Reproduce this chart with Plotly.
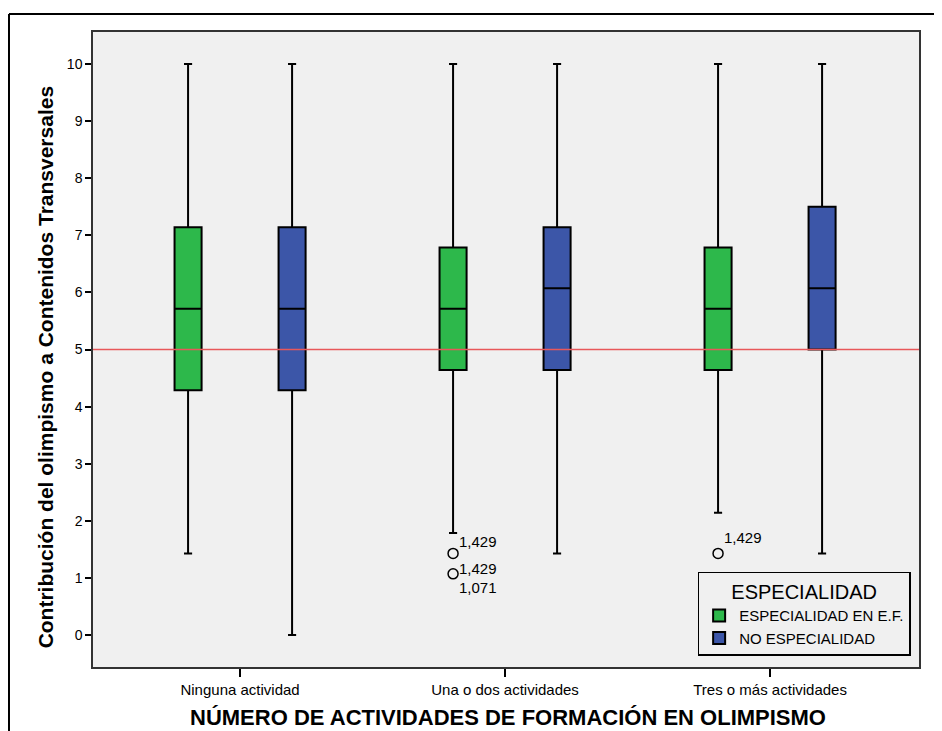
import plotly.graph_objects as go

categories = ["Ninguna actividad", "Una o dos actividades", "Tres o más actividades"]

# Green: ESPECIALIDAD EN E.F.
ef_lower = [1.429, 1.786, 2.143]
ef_q1 = [4.286, 4.643, 4.643]
ef_median = [5.714, 5.714, 5.714]
ef_q3 = [7.143, 6.786, 6.786]
ef_upper = [10.0, 10.0, 10.0]

# Blue: NO ESPECIALIDAD
no_lower = [0.0, 1.429, 1.429]
no_q1 = [4.286, 4.643, 5.0]
no_median = [5.714, 6.071, 6.071]
no_q3 = [7.143, 7.143, 7.5]
no_upper = [10.0, 10.0, 10.0]

# Outliers (green group)
out_cat_index = [1, 1, 2]
out_values = [1.429, 1.071, 1.429]
out_labels = [["1,429"], ["1,429", "1,071"], ["1,429"]]

reference_value = 5

x_title = "NÚMERO DE ACTIVIDADES DE FORMACIÓN EN OLIMPISMO"
y_title = "Contribución del olimpismo a Contenidos Transversales"

GREEN = "#2db84b"
BLUE = "#3c56a8"
BOXGAP = 0.215
BOXGROUPGAP = 0.74
FONT = "Liberation Sans, Arial, sans-serif"

fig = go.Figure()
fig.add_trace(go.Box(
    name="ESPECIALIDAD EN E.F.", x=categories,
    q1=ef_q1, median=ef_median, q3=ef_q3,
    lowerfence=ef_lower, upperfence=ef_upper,
    fillcolor=GREEN, line=dict(color="black", width=2),
    whiskerwidth=0.3, boxpoints=False, hoverinfo="skip",
))
fig.add_trace(go.Box(
    name="NO ESPECIALIDAD", x=categories,
    q1=no_q1, median=no_median, q3=no_q3,
    lowerfence=no_lower, upperfence=no_upper,
    fillcolor=BLUE, line=dict(color="black", width=2),
    whiskerwidth=0.3, boxpoints=False, hoverinfo="skip",
))

# outliers on an overlaid numeric axis aligned with category indices
offset = -(1 - BOXGAP) / 4
out_x = [i + offset for i in out_cat_index]
fig.add_trace(go.Scatter(
    x=out_x, y=out_values, xaxis="x2", mode="markers",
    marker=dict(symbol="circle-open", size=10, color="black", line=dict(width=1.5)),
    showlegend=False, hoverinfo="skip",
))

label_shifts = [[(4, 12)], [(4, 5), (4, -14)], [(4, 16)]]
for xi, yi, labs, shifts in zip(out_x, out_values, out_labels, label_shifts):
    for lab, (dx, dy) in zip(labs, shifts):
        fig.add_annotation(
            x=xi, y=yi, xref="x2", yref="y", text=lab, showarrow=False,
            xanchor="left", yanchor="middle", xshift=dx, yshift=dy,
            font=dict(family=FONT, size=15, color="black"),
        )

fig.add_hline(y=reference_value, line=dict(color="#e8575a", width=1.5), layer="above")

# axis titles
fig.add_annotation(x=0.502, y=-0.079, xref="paper", yref="paper", text=f"<b>{x_title}</b>",
                   showarrow=False, xanchor="center", yanchor="middle",
                   font=dict(family=FONT, size=22, color="black"))
fig.add_annotation(x=-0.058, y=0.472, xref="paper", yref="paper", text=f"<b>{y_title}</b>",
                   showarrow=False, xanchor="center", yanchor="middle", textangle=-90,
                   font=dict(family=FONT, size=21, color="black"))

# outer frame (left and top)
fig.add_shape(type="line", xref="paper", yref="paper", x0=-0.1017, x1=-0.1017, y0=-0.12, y1=1.0283,
              line=dict(color="black", width=2))
fig.add_shape(type="line", xref="paper", yref="paper", x0=-0.1017, x1=1.03, y0=1.0283, y1=1.0283,
              line=dict(color="black", width=2))

# page body has an 8px margin: size figure so that it fits the 942x731 window
fig.update_layout(
    width=934, height=723,
    margin=dict(l=85, r=23, t=24, b=64, autoexpand=False),
    paper_bgcolor="white", plot_bgcolor="#f0f0f0",
    boxmode="group", boxgap=BOXGAP, boxgroupgap=BOXGROUPGAP,
    font=dict(family=FONT, size=14, color="black"),
    xaxis=dict(
        type="category", range=[-0.555, 2.562],
        showline=True, linecolor="#333", linewidth=1.5, mirror=True,
        ticks="outside", ticklen=8, tickcolor="black", tickwidth=1.5,
        showgrid=False, zeroline=False,
        tickfont=dict(size=15),
    ),
    xaxis2=dict(
        overlaying="x", range=[-0.555, 2.562], visible=False,
    ),
    yaxis=dict(
        range=[-0.56, 10.56], tickmode="array",
        tickvals=list(range(0, 11)),
        showline=True, linecolor="#333", linewidth=1.5, mirror=True,
        ticks="outside", ticklen=6, tickcolor="black", tickwidth=1.5,
        showgrid=False, zeroline=False,
        tickfont=dict(size=14),
    ),
    legend=dict(
        x=0.732, y=0.15, xanchor="left", yanchor="top",
        bgcolor="#f0f0f0", bordercolor="black", borderwidth=1.5,
        title=dict(text="ESPECIALIDAD", font=dict(size=20), side="top center"),
        font=dict(size=15), tracegroupgap=0,
    ),
    showlegend=True,
)

fig.write_html("out.html")
